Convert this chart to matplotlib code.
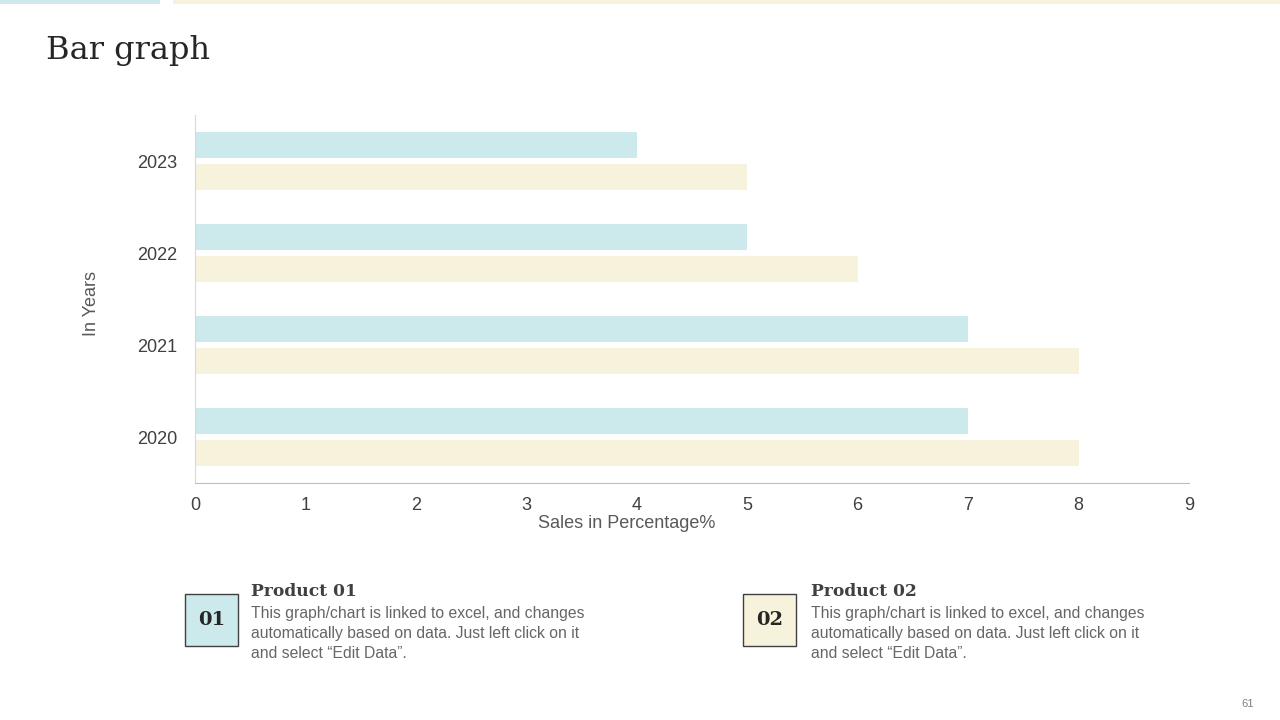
import matplotlib.pyplot as plt
from matplotlib.patches import Rectangle
import numpy as np

# data
years = ['2020', '2021', '2022', '2023']
product_01 = [7, 7, 5, 4]
product_02 = [8, 8, 6, 5]
x_ticks = list(range(0, 10))

blue = '#cce9ec'
yellow = '#f7f2dc'
grey_txt = '#595959'
serif = ['DejaVu Serif']
sans = ['Liberation Sans', 'DejaVu Sans']

fig = plt.figure(figsize=(12.8, 7.2), dpi=100)
fig.patch.set_facecolor('white')

# decorative strips at top
fig.patches.append(Rectangle((0, 1 - 4 / 720), 160 / 1280, 4 / 720, transform=fig.transFigure,
                             facecolor=blue, edgecolor='none'))
fig.patches.append(Rectangle((173 / 1280, 1 - 4 / 720), 1 - 173 / 1280, 4 / 720, transform=fig.transFigure,
                             facecolor=yellow, edgecolor='none'))

fig.text(46 / 1280, 1 - 50 / 720, 'Bar graph', family=serif, fontsize=23, color='#262626',
         va='center', ha='left')

ax = fig.add_axes([195 / 1280, 1 - 483 / 720, 994 / 1280, 368 / 720])
y = np.arange(len(years))
h = 0.28
ax.barh(y + 0.175, product_01, height=h, color=blue)
ax.barh(y - 0.175, product_02, height=h, color=yellow)

ax.set_xlim(0, 9)
ax.set_ylim(-0.5, 3.5)
ax.set_xticks(x_ticks)
ax.set_yticks(y)
ax.set_yticklabels(years)
for lab in ax.get_xticklabels() + ax.get_yticklabels():
    lab.set_family(sans)
    lab.set_fontsize(13)
    lab.set_color('#404040')
ax.tick_params(length=0, pad=13)
ax.tick_params(axis='x', pad=10)
for s in ['top', 'right']:
    ax.spines[s].set_visible(False)
ax.spines['left'].set_color('#d9d9d9')
ax.spines['bottom'].set_color('#bfbfbf')

fig.text(92 / 1280, 1 - 303 / 720, 'In Years', rotation=90, family=sans, fontsize=13,
         color=grey_txt, ha='center', va='center')
fig.text(627 / 1280, 1 - 523 / 720, 'Sales in Percentage%', family=sans, fontsize=13,
         color=grey_txt, ha='center', va='center')

# bottom info blocks
body = ('This graph/chart is linked to excel, and changes\n'
        'automatically based on data. Just left click on it\n'
        'and select \u201cEdit Data\u201d.')
for bx, tx, num, title, col in [(185, 251, '01', 'Product 01', blue),
                                (743, 811, '02', 'Product 02', yellow)]:
    fig.patches.append(Rectangle((bx / 1280, 1 - 646 / 720), 53 / 1280, 52 / 720,
                                 transform=fig.transFigure, facecolor=col,
                                 edgecolor='#404040', linewidth=1))
    fig.text((bx + 26.5) / 1280, 1 - 620 / 720, num, family=serif, fontsize=14,
             fontweight='bold', color='#262626', ha='center', va='center')
    fig.text(tx / 1280, 1 - 591 / 720, title, family=serif, fontsize=12.3,
             fontweight='bold', color='#404040', ha='left', va='center')
    fig.text(tx / 1280, 1 - 606 / 720, body, family=sans, fontsize=11.3,
             color='#666666', ha='left', va='top', linespacing=1.4)

fig.text(1248 / 1280, 1 - 704 / 720, '61', family=sans, fontsize=8, color='#808080',
         ha='center', va='center')

fig.savefig('out.png', dpi=100)
